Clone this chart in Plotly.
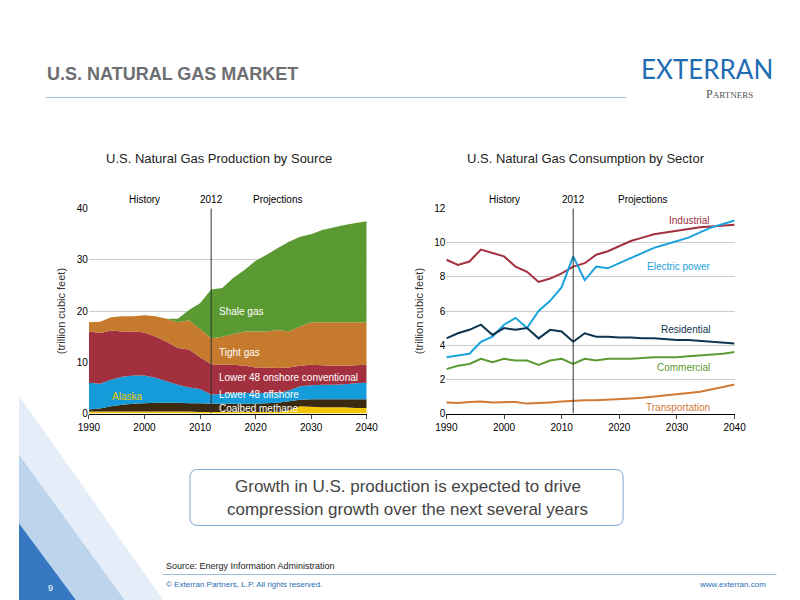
import plotly.graph_objects as go

years = list(range(1990, 2041, 2))
alaska = [0.4]*10 + [0.3]*8 + [0.6,1.4,1.3,1.2,1.2,1.2,1.1,1.1]
coalbed = [0.4,0.6,1.0,1.3,1.5,1.6,1.7,1.7,1.7,1.6,1.7,1.6,1.6,1.6,1.6,1.6,1.7,1.8,1.8,1.3,1.5,1.6,1.6,1.6,1.7,1.7]
offshore = [5.2,4.8,5.2,5.5,5.5,5.4,4.9,4.2,3.5,3.1,2.8,1.8,1.9,2.1,2.1,2.1,2.0,1.9,2.1,2.6,2.7,2.8,2.8,2.9,3.1,3.2]
onshore = [10.0,9.9,9.6,8.8,8.6,8.4,8.0,7.7,7.2,7.4,6.2,5.9,5.7,5.5,5.3,5.0,5.0,4.9,4.5,4.0,4.0,3.8,3.7,3.6,3.5,3.5]
tight = [1.8,2.2,2.6,3.0,3.0,3.4,4.0,4.5,5.0,5.7,5.5,5.1,5.5,6.0,6.7,7.0,7.0,7.4,7.0,7.7,8.3,8.4,8.5,8.5,8.4,8.3]
shale = [0,0,0,0,0,0,0,0,0.7,2.0,5.0,9.5,9.5,11.0,12.0,13.8,15.0,16.0,17.5,17.5,17.2,18.0,18.5,19.0,19.4,19.7]

industrial = [9.0,8.7,8.9,9.6,9.4,9.2,8.6,8.3,7.7,7.9,8.2,8.6,8.8,9.3,9.5,9.8,10.1,10.3,10.5,10.6,10.7,10.8,10.9,10.95,11.0,11.05]
electric = [3.3,3.4,3.5,4.2,4.5,5.2,5.6,5.0,6.0,6.6,7.4,9.2,7.8,8.6,8.5,8.8,9.1,9.4,9.7,9.9,10.1,10.3,10.6,10.9,11.1,11.3]
residential = [4.4,4.7,4.9,5.2,4.6,5.0,4.9,5.0,4.4,4.9,4.8,4.2,4.7,4.5,4.5,4.45,4.45,4.4,4.4,4.35,4.3,4.3,4.25,4.2,4.15,4.1]
commercial = [2.6,2.8,2.9,3.2,3.0,3.2,3.1,3.1,2.85,3.1,3.2,2.9,3.2,3.1,3.2,3.2,3.2,3.25,3.3,3.3,3.3,3.35,3.4,3.45,3.5,3.6]
transport = [0.65,0.62,0.68,0.70,0.65,0.66,0.68,0.58,0.60,0.65,0.70,0.75,0.78,0.78,0.8,0.85,0.88,0.92,0.98,1.05,1.12,1.2,1.28,1.4,1.55,1.7]

fig = go.Figure()
layers = [(alaska,"#f2c500"),(coalbed,"#3b2a10"),(offshore,"#149bd9"),(onshore,"#a3303f"),(tight,"#c57a2e"),(shale,"#5b9a32")]
for vals, c in layers:
    fig.add_trace(go.Scatter(x=years, y=vals, stackgroup="p", mode="none", fillcolor=c, line=dict(width=0), xaxis="x", yaxis="y", showlegend=False, hoverinfo="skip"))
lines = [(industrial,"#a3303f"),(electric,"#1aa3dd"),(residential,"#0d3550"),(commercial,"#5b9a32"),(transport,"#d07a35")]
for vals, c in lines:
    fig.add_trace(go.Scatter(x=years, y=vals, mode="lines", line=dict(color=c, width=2), xaxis="x2", yaxis="y2", showlegend=False))

F = "Arial"
ax = dict(range=[1990,2040], tickvals=[1990,2000,2010,2020,2030,2040], showgrid=False, showline=True, linecolor="black", ticks="outside", ticklen=4, zeroline=False, tickfont=dict(size=10, family=F, color="black"))
fig.update_layout(
    width=800, height=600, margin=dict(l=0,r=0,t=0,b=0), paper_bgcolor="white", plot_bgcolor="white",
    xaxis=dict(domain=[0.09,0.4475], anchor="y", **ax),
    yaxis=dict(domain=[0.32,0.668], anchor="x", range=[0,40], tickvals=[0,10,20,30,40], showgrid=True, gridcolor="#cccccc", zeroline=False, tickfont=dict(size=10,family=F,color="black"),
               title=dict(text="(trillion cubic feet)", font=dict(size=11,family=F,color="#333"), standoff=8)),
    xaxis2=dict(domain=[0.55,0.921], anchor="y2", **ax),
    yaxis2=dict(domain=[0.32,0.668], anchor="x2", range=[0,12], tickvals=[0,2,4,6,8,10,12], showgrid=True, gridcolor="#cccccc", zeroline=False, tickfont=dict(size=10,family=F,color="black"),
                title=dict(text="(trillion cubic feet)", font=dict(size=11,family=F,color="#333"), standoff=8)),
)

ann = []
def A(x,y,t,xr="paper",yr="paper",size=11,color="black",xa="center",ya="middle",bold=False,fam=F):
    ann.append(dict(x=x,y=y,text=("<b>%s</b>"%t if bold else t),xref=xr,yref=yr,showarrow=False,font=dict(size=size,color=color,family=fam),xanchor=xa,yanchor=ya))
for xr, yr, top in [("x","y",40),("x2","y2",12)]:
    fig.add_shape(type="line", x0=2012, x1=2012, y0=0, y1=top*1.03, xref=xr, yref=yr, line=dict(color="#333", width=1))
    A(2000,1-190/600,"History",xr,"paper",size=10)
    A(2012,1-190/600,"2012",xr,"paper",size=10)
    A(2024,1-190/600,"Projections",xr,"paper",size=10)
for t,y in [("Shale gas",20),("Tight gas",12),("Lower 48 onshore conventional",7),("Lower 48 offshore",3.7),("Coalbed methane",0.9)]:
    A(2013,y,t,"x","y",size=10,color="white",xa="left")
A(2000,3.3,"Alaska","x","y",size=10,color="#f2c500",xa="right")
for t,y,c in [("Industrial",11.3,"#a3303f"),("Electric power",8.6,"#1aa3dd"),("Residential",4.9,"#0d3550"),("Commercial",2.7,"#5b9a32"),("Transportation",0.35,"#d07a35")]:
    A(2036,y,t,"x2","y2",size=10,color=c,xa="right")
A(0.034,1-62/600,"U.S. NATURAL GAS MARKET",size=18,color="#6d6e71",xa="left",bold=True)
A(0.885,1-57/600,"EXTERRAN",size=26,color="#1f6db4",fam="Lato")
A(0.915,1-83/600,"P<span style='font-size:9px'>ARTNERS</span>",size=12,color="#555",fam="Liberation Serif")
A(0.257,1-148/600,"U.S. Natural Gas Production by Source",size=13,color="#222")
A(0.73,1-148/600,"U.S. Natural Gas Consumption by Sector",size=13,color="#222")
A(0.5,1-482/600,"Growth in U.S. production is expected to drive",size=17,color="#444")
A(0.5,1-506/600,"compression growth over the next several years",size=17,color="#444")
A(0.186,1-563/600,"Source: Energy Information Administration",size=9,color="#222",xa="left")
A(0.186,1-582/600,"© Exterran Partners, L.P. All rights reserved.",size=8,color="#1f6db4",xa="left")
A(0.964,1-582/600,"www.exterran.com",size=8,color="#1f6db4",xa="right")
A(0.04,1-586/600,"9",size=9,color="white")
fig.update_layout(annotations=ann)

def P(x,y): return "%f,%f"%(x/800,1-y/600)
shapes = [
    dict(type="line",xref="paper",yref="paper",x0=28/800,x1=625/800,y0=1-86/600,y1=1-86/600,line=dict(color="#9dbde0",width=1)),
    dict(type="line",xref="paper",yref="paper",x0=148/800,x1=780/800,y0=1-572/600,y1=1-572/600,line=dict(color="#9dbde0",width=1)),
    dict(type="path",xref="paper",yref="paper",path="M "+P(0,390)+" L "+P(150,600)+" L "+P(0,600)+" Z",fillcolor="rgba(180,205,235,0.35)",line=dict(width=0),layer="below"),
    dict(type="path",xref="paper",yref="paper",path="M "+P(0,450)+" L "+P(110,600)+" L "+P(0,600)+" Z",fillcolor="rgba(140,180,225,0.45)",line=dict(width=0),layer="below"),
    dict(type="path",xref="paper",yref="paper",path="M "+P(0,520)+" L "+P(60,600)+" L "+P(0,600)+" Z",fillcolor="rgba(40,110,190,0.9)",line=dict(width=0),layer="below"),
    dict(type="path",xref="paper",yref="paper",path="M "+P(184,465)+" L "+P(614,465)+" Q "+P(622,465)+" "+P(622,473)+" L "+P(622,514)+" Q "+P(622,522)+" "+P(614,522)+" L "+P(184,522)+" Q "+P(176,522)+" "+P(176,514)+" L "+P(176,473)+" Q "+P(176,465)+" "+P(184,465)+" Z",
         fillcolor="white",line=dict(color="#7fa7d6",width=1)),
]
fig.update_layout(shapes=list(fig.layout.shapes)+shapes)
fig.write_html("out.html")
